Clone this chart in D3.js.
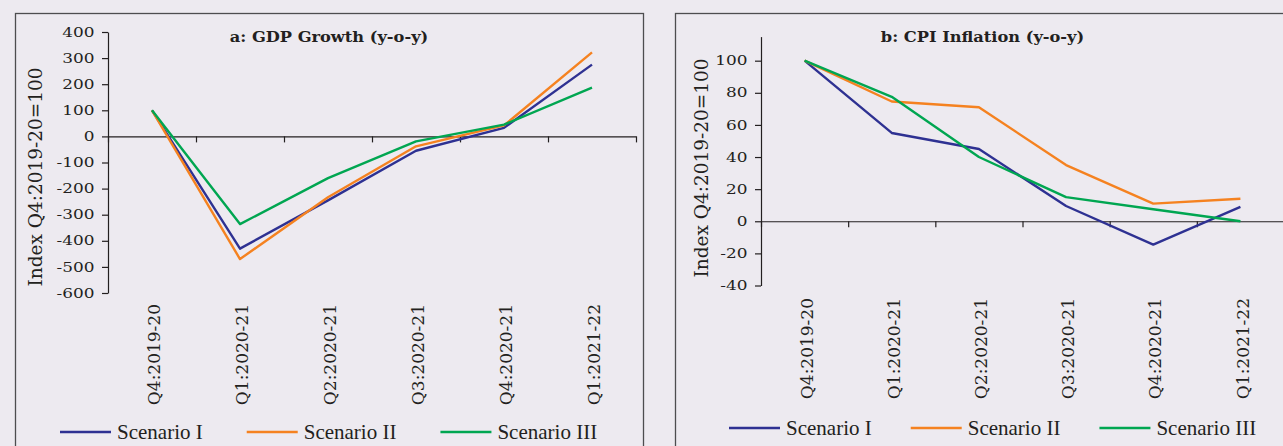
<!DOCTYPE html>
<html>
<head>
<meta charset="utf-8">
<script src="https://cdn.jsdelivr.net/npm/d3@7"></script>
<style>
  body { margin: 0; background: #edeaf0; }
  svg { display: block; }
  .axis path, .axis line { stroke: #231f20; stroke-width: 1.2px; }
  .axis text { font-family: "DejaVu Serif", serif; fill: #231f20; }
</style>
</head>
<body>
<script>
// quarters along the x axis
const quarters = ["Q4:2019-20", "Q1:2020-21", "Q2:2020-21", "Q3:2020-21", "Q4:2020-21", "Q1:2021-22"];
const scenarios = ["Scenario I", "Scenario II", "Scenario III"];
const colors = ["#2e3192", "#f58220", "#00a651"];

// panel a: GDP growth index
const gdpScenarioI   = [100, -430, -245, -55, 33, 275];
const gdpScenarioII  = [100, -470, -233, -38, 42, 322];
const gdpScenarioIII = [100, -336, -160, -19, 45, 187];
const gdpTicks = [400, 300, 200, 100, 0, -100, -200, -300, -400, -500, -600];

// panel b: CPI inflation index
const cpiScenarioI   = [100, 55, 45, 9.5, -14.5, 9];
const cpiScenarioII  = [100, 74.6, 71, 35, 11, 14];
const cpiScenarioIII = [100, 77.5, 40, 15, 7.5, 0];
const cpiTicks = [100, 80, 60, 40, 20, 0, -20, -40];

const W = 1283, H = 446;
const svg = d3.select("body").append("svg")
    .attr("width", W)
    .attr("height", H);

function drawPanel(p) {
    const g = svg.append("g");

    // outer frame (bottom and right run off the picture)
    g.append("rect")
        .attr("x", p.box[0] + 0.5).attr("y", 13.5)
        .attr("width", p.box[1] - p.box[0]).attr("height", H + 20)
        .attr("fill", "none")
        .attr("stroke", "#4d4d4f")
        .attr("stroke-width", 1.3);

    const x = d3.scaleBand().domain(quarters).range(p.xRange);
    const y = d3.scaleLinear().domain(p.yDomain).range(p.yRange);
    // boundaries between categories, for the tick marks
    const xb = d3.scaleLinear().domain([0, quarters.length]).range(p.xRange);

    // x axis sits on zero
    g.append("g")
        .attr("class", "axis")
        .attr("transform", `translate(0,${y(0)})`)
        .call(d3.axisBottom(xb).ticks(quarters.length).tickSize(6).tickSizeOuter(0).tickFormat(""));

    const ya = g.append("g")
        .attr("class", "axis")
        .attr("transform", `translate(${p.xRange[0]},0)`)
        .call(d3.axisLeft(y).tickValues(p.ticks).tickSize(6).tickSizeOuter(0)
            .tickFormat(d => String(d)));  // plain hyphen, not the unicode minus
    ya.selectAll("text")
        .attr("font-size", 13)
        .attr("x", -10.4)
        .attr("transform", "scale(1.3,1)");

    // rotated category labels
    g.selectAll(".qlab")
        .data(quarters)
        .enter().append("text")
        .attr("class", "qlab")
        .attr("transform", d => `translate(${x(d) + x.bandwidth() / 2 + 2},${p.labelTop}) rotate(-90)`)
        .attr("text-anchor", "end")
        .attr("dy", "0.36em")
        .attr("font-family", "DejaVu Serif")
        .attr("font-size", 17)
        .attr("fill", "#231f20")
        .text(d => d);

    // y axis title
    g.append("text")
        .attr("transform", `translate(${p.yTitleX},${p.yTitleY}) rotate(-90)`)
        .attr("text-anchor", "middle")
        .attr("dy", "0.35em")
        .attr("font-family", "DejaVu Serif")
        .attr("font-size", 18.5)
        .attr("fill", "#231f20")
        .text("Index Q4:2019-20=100");

    // panel title
    g.append("text")
        .attr("transform", `translate(${(p.box[0] + p.box[1]) / 2},42) scale(1.12,1)`)
        .attr("text-anchor", "middle")
        .attr("font-family", "DejaVu Serif")
        .attr("font-weight", "bold")
        .attr("font-size", 14.5)
        .attr("fill", "#231f20")
        .text(p.title);

    const line = d3.line()
        .x((d, i) => x(quarters[i]) + x.bandwidth() / 2)
        .y(d => y(d));

    p.series.forEach((s, k) => {
        g.append("path")
            .datum(s)
            .attr("d", line)
            .attr("fill", "none")
            .attr("stroke", colors[k])
            .attr("stroke-width", 2.4)
            .attr("stroke-linejoin", "round");
    });

    // legend along the bottom
    let lx = p.legendX;
    scenarios.forEach((name, k) => {
        g.append("line")
            .attr("x1", lx).attr("x2", lx + 51)
            .attr("y1", p.legendY).attr("y2", p.legendY)
            .attr("stroke", colors[k])
            .attr("stroke-width", 2.6);
        const t = g.append("text")
            .attr("x", lx + 57)
            .attr("y", p.legendY)
            .attr("dy", "0.35em")
            .attr("font-family", "Liberation Serif")
            .attr("font-size", 21)
            .attr("fill", "#231f20")
            .text(name);
        lx += 57 + t.node().getComputedTextLength() + p.legendGap;
    });
}

drawPanel({
    title: "a: GDP Growth (y-o-y)",
    box: [15, 643],
    xRange: [108, 636],
    yDomain: [-600, 400],
    yRange: [293, 32],
    ticks: gdpTicks,
    series: [gdpScenarioI, gdpScenarioII, gdpScenarioIII],
    labelTop: 304,
    yTitleX: 36,
    yTitleY: 177,
    legendX: 60,
    legendY: 432,
    legendGap: 44
});

drawPanel({
    title: "b: CPI Inflation (y-o-y)",
    box: [675, 1290],
    xRange: [761, 1284],
    yDomain: [-40, 115],
    yRange: [285.5, 36.6],
    ticks: cpiTicks,
    series: [cpiScenarioI, cpiScenarioII, cpiScenarioIII],
    labelTop: 298,
    yTitleX: 702,
    yTitleY: 168,
    legendX: 729,
    legendY: 428,
    legendGap: 39
});
</script>
</body>
</html>
